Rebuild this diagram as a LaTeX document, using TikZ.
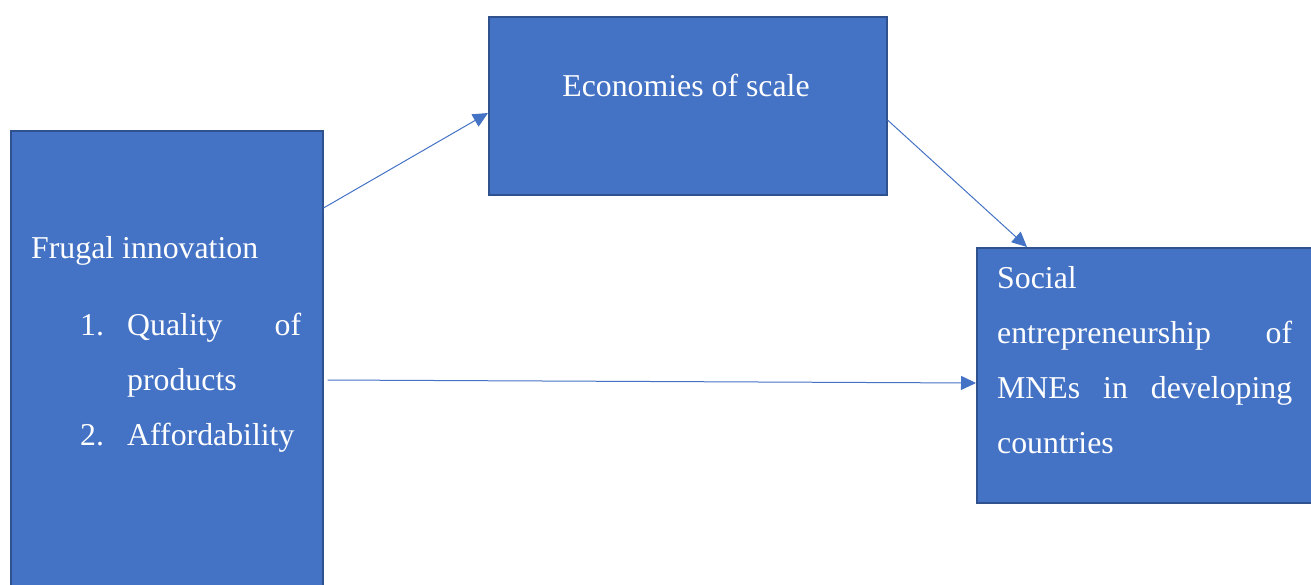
\documentclass[tikz,border=0pt]{standalone}
\usepackage{fontspec}
\setmainfont{Liberation Serif}
\usetikzlibrary{arrows.meta}
\definecolor{boxblue}{HTML}{4472C4}
\definecolor{boxedge}{HTML}{2F528F}

\begin{document}
\begin{tikzpicture}[x=1pt,y=-1pt]
        \useasboundingbox (0,0) rectangle (1311,584);
        \begin{scope}[every node/.style={rectangle,draw=boxedge,line width=1.5pt,fill=boxblue,anchor=north west,inner sep=0pt}]
        \node[minimum width=312pt,minimum height=480pt] (frugal) at (10,130) {};
        \node[minimum width=398pt,minimum height=178pt] (scale) at (488,16) {};
        \node[minimum width=340pt,minimum height=255pt] (social) at (976,247) {};
        \end{scope}
        \begin{scope}[every node/.style={text=white,inner sep=0pt,anchor=base west,font=\fontsize{31.8pt}{55pt}\selectfont}]
        \node (frugaltitle) at (31,258) {Frugal innovation};
        \node (item1) at (80,335) {1.};
        \node (item2) at (80,445) {2.};
        \node[text width=174pt,align=left] (items) at (127,335) {Quality\hfill of\\products\\Affordability};
        \node[anchor=base] (scaletitle) at (686,96) {Economies of scale};
        \node[text width=295pt,align=left] (socialtitle) at (997,288) {Social\\entrepreneurship\hfill of\\MNEs\hfill in\hfill developing\\countries};
        \end{scope}
        \begin{scope}[every edge/.style={draw=boxblue,line width=1pt,-{Triangle[length=15pt,width=14pt]}}]
        \path ([yshift=-78pt]frugal.north east) edge ([yshift=-97pt]scale.north west)
              ([yshift=-104pt]scale.north east) edge ([xshift=51pt]social.north west)
              ([shift={(4pt,-250pt)}]frugal.north east) edge ([yshift=-136pt]social.north west);
        \end{scope}
\end{tikzpicture}
\end{document}
